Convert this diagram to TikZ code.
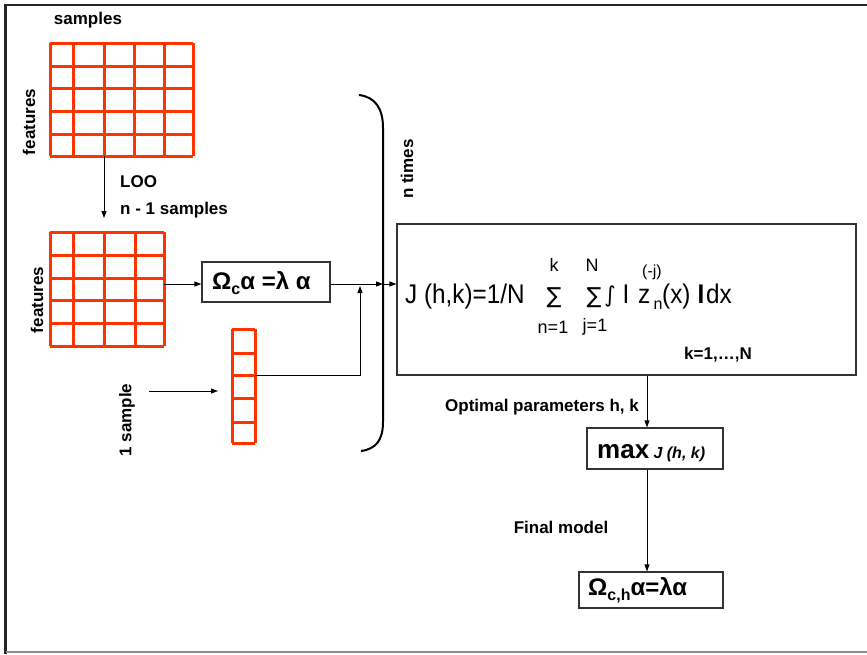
\documentclass[tikz,border=0pt]{standalone}
\usepackage{fontspec}
\setmainfont{Liberation Sans}
\newfontfamily\dv{DejaVu Sans}
\newfontfamily\fsans[FakeStretch=0.9]{Liberation Sans}
\usetikzlibrary{arrows.meta}
\definecolor{gridred}{RGB}{255,51,0}
\tikzset{
  gridline/.style={draw=gridred, line width=3pt},
  arr/.style={draw=black, line width=0.9pt, -{Triangle[length=7pt,width=5pt]}},
  boxed/.style={draw=black!80, line width=1.2pt, inner sep=0pt},
  lbl/.style={font=\bfseries\fontsize{17}{20}\selectfont, inner sep=0pt},
  fml/.style={font=\fsans\fontsize{27}{30}\selectfont, inner sep=0pt},
  fsmall/.style={font=\fontsize{18}{20}\selectfont, inner sep=0pt},
  fsym/.style={font=\dv\fontsize{22}{24}\selectfont, inner sep=0pt},
  eq/.style={font=\bfseries\fontsize{24}{26}\selectfont, inner sep=0pt},
}
\begin{document}
\begin{tikzpicture}[x=1pt,y=-1pt]
\useasboundingbox (0,0) rectangle (867,654);
% frame
\draw[line width=2.4pt, black!85] (5.5,654) -- (5.5,5) -- (867,5);
\draw[line width=1.4pt, black!45] (5.5,652) -- (867,652);

% grid 1 (samples x features)
\node[inner sep=0, minimum width=143pt, minimum height=113pt] (g1) at (121.5,99.5) {};
\foreach \x in {50,73,104,134,164,193} \draw[gridline] (\x,43) -- (\x,156);
\foreach \y in {43,66,88,111,134,156} \draw[gridline] (50,\y) -- (193,\y);
\node[lbl] (lsamples) at (88,20) {samples};
\node[lbl, rotate=90] (lfeat1) at (29,122) {features};

% LOO arrow
\coordinate (g1out) at (104,156);
\coordinate (g2in) at (104,218);
\draw[arr] (g1out) -- (g2in);
\node[lbl, anchor=west] (lloo) at (120,182) {LOO};
\node[lbl, anchor=west] (lnm1) at (120,210) {n - 1 samples};

% grid 2
\node[inner sep=0, minimum width=114pt, minimum height=114pt] (g2) at (107,289) {};
\foreach \x in {50,73,104,135,164} \draw[gridline] (\x,232) -- (\x,346);
\foreach \y in {232,255,278,300,323,346} \draw[gridline] (50,\y) -- (164,\y);
\node[lbl, rotate=90] (lfeat2) at (37,300) {features};

% column vector (1 sample)
\node[inner sep=0, minimum width=23pt, minimum height=114pt] (cv) at (243.5,386) {};
\foreach \x in {232,255} \draw[gridline] (\x,329) -- (\x,443);
\foreach \y in {329,353,375,398,422,443} \draw[gridline] (232,\y) -- (255,\y);
\node[lbl, rotate=90] (l1s) at (127,420) {1 sample};
\coordinate (s1a) at (149,391);
\coordinate (s1b) at (218,391);
\draw[arr] (s1a) -- (s1b);

% Omega box
\node[boxed, minimum width=128pt, minimum height=40pt] (omega) at (266,282) {};
\node[eq, anchor=west] (omegatxt) at (212,283)
  {Ω\raisebox{-5pt}{\fontsize{16}{17}\selectfont c}α =λ α};
\draw[arr] (g2.east |- 0,284) -- (omega.west |- 0,284);

% J box
\node[boxed, minimum width=459pt, minimum height=151pt] (J) at (626.5,299.5) {};
\coordinate (br) at (383,284);
\draw[arr] (omega.east |- br) -- (br);
\draw[arr] (br) -- (J.west |- br);
\coordinate (cvout) at (255,375);
\coordinate (join) at (360,286);
\draw[arr] (cvout) -| (join);

% bracket
\draw[line width=2pt] (359,95) .. controls (375,97) and (383,108) .. (383,128)
  -- (383,422) .. controls (383,440) and (376,449) .. (361,451);
\node[lbl, rotate=90] (lntimes) at (407,169) {n times};

% formula
\node[fml, anchor=base west] (f1) at (405,303) {J (h,k)=1/N};
\node[fsym, anchor=base] (sum1) at (554,303) {∑};
\node[fsmall] (fk) at (554,265) {k};
\node[fsmall] (fn1) at (553,327) {n=1};
\node[fsym, anchor=base] (sum2) at (594,303) {∑};
\node[fsmall] (fN) at (592,265) {N};
\node[fsmall] (fj1) at (595,327) {j=1};
\node[fsym, anchor=base] (fint) at (610,302) {∫};
\node[fml, anchor=base] (fI1) at (626,303) {I};
\node[fml, anchor=base west] (fz) at (638,303) {z};
\node[font=\fontsize{16}{18}\selectfont, inner sep=0pt] (fsup) at (652,272) {(-j)};
\node[font=\fontsize{16}{18}\selectfont, inner sep=0pt] (fsub) at (658,305) {n};
\node[fml, anchor=base west] (fx) at (662,303) {(x)};
\node[fml, anchor=base, font=\fsans\bfseries\fontsize{27}{30}\selectfont] (fI2) at (701,303) {I};
\node[fml, anchor=base west] (fdx) at (706,303) {dx};
\node[lbl] (lk) at (718,355) {k=1,…,N};

% max box
\node[boxed, minimum width=136pt, minimum height=41pt] (max) at (655,448.5) {};
\node[inner sep=0pt, anchor=base west] (maxtxt) at (597,458)
  {\bfseries\fontsize{26}{28}\selectfont max\,{\itshape\fontsize{16}{18}\selectfont J (h, k)}};
\coordinate (jx) at (647,0);
\draw[arr] (J.south -| jx) -- (max.north -| jx);
\node[lbl, anchor=west] (lopt) at (445,407) {Optimal parameters h, k};

% final box
\node[boxed, minimum width=144pt, minimum height=36pt] (final) at (651,590) {};
\node[eq, anchor=west] (finaltxt) at (588,590)
  {Ω\raisebox{-5pt}{\fontsize{16}{17}\selectfont c,h}α=λα};
\draw[arr] (max.south -| jx) -- (final.north -| jx);
\node[lbl] (lfinal) at (561,527) {Final model};
\end{tikzpicture}
\end{document}
